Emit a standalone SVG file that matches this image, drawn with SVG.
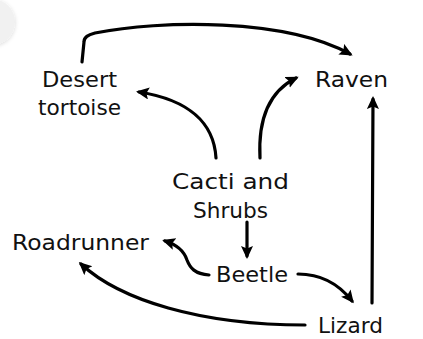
<svg xmlns="http://www.w3.org/2000/svg" width="423" height="339" viewBox="0 0 423 339">
<defs>
<style>
.lbl{font-family:"DejaVu Sans","Liberation Sans",sans-serif;font-size:21.5px;fill:#111;text-anchor:middle}
.c{fill:none;stroke:#000;stroke-width:3.2;stroke-linecap:round;stroke-linejoin:round}
.a{marker-end:url(#ah)}
</style>
<marker id="ah" markerUnits="userSpaceOnUse" markerWidth="16" markerHeight="16" refX="10" refY="6" orient="auto">
<path d="M0,0 L13,6 L0,12 L2.5,6 z" fill="#000"/>
</marker>
<filter id="sh" x="-50%" y="-50%" width="200%" height="200%">
<feDropShadow dx="0" dy="1" stdDeviation="2" flood-color="#000" flood-opacity="0.15"/>
</filter>
</defs>
<rect width="423" height="339" fill="#fff"/>
<circle cx="-8" cy="22" r="23" fill="#f1f1f1" filter="url(#sh)"/>
<g id="connectors">
<path class="c a" d="M82,62 L84,42 C84,37 88,35 95,33 C160,20 285,18 350,54"/>
<path class="c a" d="M216,158 C214,124 190,100 139,92"/>
<path class="c a" d="M260,158 C258,120 268,92 296,78"/>
<path class="c a" d="M372,303 L373,99"/>
<path class="c a" d="M247,222 L247,256"/>
<path class="c a" d="M209,275 C195,274 190,268 187,260 C184,251 178,245 165,241"/>
<path class="c a" d="M298,274 C320,274 338,283 352,301"/>
<path class="c a" d="M305,325 C200,325 120,300 81,264"/>
</g>
<g id="desert-tortoise"><text class="lbl" x="79.5" y="87" textLength="75" lengthAdjust="spacingAndGlyphs">Desert</text><text class="lbl" x="79.5" y="115" textLength="83" lengthAdjust="spacingAndGlyphs">tortoise</text></g>
<g id="raven"><text class="lbl" x="351.5" y="87" textLength="73" lengthAdjust="spacingAndGlyphs">Raven</text></g>
<g id="cacti-shrubs"><text class="lbl" x="230.5" y="189" textLength="117" lengthAdjust="spacingAndGlyphs">Cacti and</text><text class="lbl" x="230.5" y="218" textLength="75" lengthAdjust="spacingAndGlyphs">Shrubs</text></g>
<g id="roadrunner"><text class="lbl" x="80.5" y="250" textLength="137" lengthAdjust="spacingAndGlyphs">Roadrunner</text></g>
<g id="beetle"><text class="lbl" x="252" y="282" textLength="72" lengthAdjust="spacingAndGlyphs">Beetle</text></g>
<g id="lizard"><text class="lbl" x="350.5" y="333" textLength="65" lengthAdjust="spacingAndGlyphs">Lizard</text></g>
</svg>
